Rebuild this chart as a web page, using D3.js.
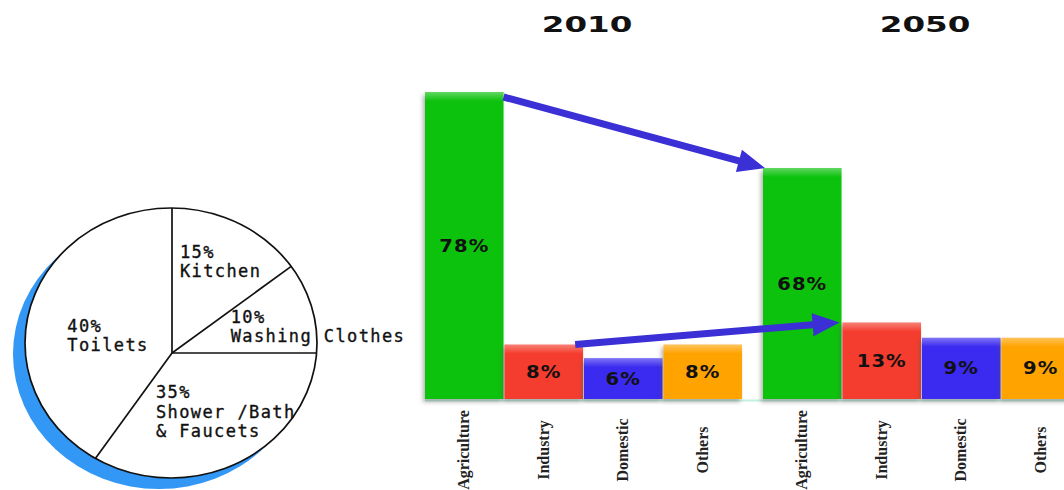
<!DOCTYPE html>
<html>
<head>
<meta charset="utf-8">
<script src="https://cdn.jsdelivr.net/npm/d3@7"></script>
<style>
    body { margin: 0; background: #fff; }
    svg { display: block; }
</style>
</head>
<body>
<div id="chart"></div>
<script>
// household use (pie)
const pieCategories = ["Kitchen", "Washing Clothes", "Shower /Bath", "Toilets"];
const pieNameLines = [["Kitchen"], ["Washing Clothes"], ["Shower /Bath", "& Faucets"], ["Toilets"]];
const pieValues = [15, 10, 35, 40];

// water use by sector (bars)
const years = ["2010", "2050"];
const sectors = ["Agriculture", "Industry", "Domestic", "Others"];
const share2010 = [78, 8, 6, 8];
const share2050 = [68, 13, 9, 9];

const width = 1064;
const height = 490;

const svg = d3.select("#chart").append("svg")
    .attr("width", width)
    .attr("height", height)
    .attr("viewBox", [0, 0, width, height]);

const defs = svg.append("defs");
const shadow = defs.append("filter")
    .attr("id", "barShadow")
    .attr("x", "-20%").attr("y", "-5%")
    .attr("width", "140%").attr("height", "115%");
shadow.append("feDropShadow")
    .attr("dx", -2).attr("dy", 3)
    .attr("stdDeviation", 2)
    .attr("flood-color", "#555")
    .attr("flood-opacity", 0.45);

const shine = defs.append("linearGradient")
    .attr("id", "shine")
    .attr("x1", 0).attr("y1", 0).attr("x2", 0).attr("y2", 1);
shine.append("stop").attr("offset", "0%").attr("stop-color", "#fff").attr("stop-opacity", 0.35);
shine.append("stop").attr("offset", "100%").attr("stop-color", "#fff").attr("stop-opacity", 0);

// ---------- pie ----------
// the original pie is a slightly squashed ellipse whose hub sits a bit below its centre
const hub = {x: 172, y: 353};
const oval = {x: 171, y: 343, rx: 146, ry: 135};

const pie = d3.pie().sort(null).value(d => d.value);
const arcs = pie(pieCategories.map((c, i) => ({name: c, lines: pieNameLines[i], value: pieValues[i]})));
const labelArc = d3.arc().innerRadius(88).outerRadius(88);

// where a ray from the hub at a pie angle meets the outline
function rimPoint(angle) {
    const dx = Math.sin(angle), dy = -Math.cos(angle);
    const hx = hub.x - oval.x, hy = hub.y - oval.y;
    const a = (dx / oval.rx) ** 2 + (dy / oval.ry) ** 2;
    const b = 2 * (hx * dx / oval.rx ** 2 + hy * dy / oval.ry ** 2);
    const c = (hx / oval.rx) ** 2 + (hy / oval.ry) ** 2 - 1;
    const t = (-b + Math.sqrt(b * b - 4 * a * c)) / (2 * a);
    return [hub.x + t * dx, hub.y + t * dy];
}

const pieG = svg.append("g");

// blue offset disc behind the pie
pieG.append("ellipse")
    .attr("cx", oval.x - 12)
    .attr("cy", oval.y + 11)
    .attr("rx", oval.rx)
    .attr("ry", oval.ry)
    .attr("fill", "#3397f5");

pieG.append("ellipse")
    .attr("cx", oval.x)
    .attr("cy", oval.y)
    .attr("rx", oval.rx)
    .attr("ry", oval.ry)
    .attr("fill", "#fff")
    .attr("stroke", "#111")
    .attr("stroke-width", 1.7);

pieG.selectAll("line.divider")
    .data(arcs)
    .join("line")
    .attr("class", "divider")
    .attr("x1", hub.x)
    .attr("y1", hub.y)
    .attr("x2", d => rimPoint(d.startAngle)[0])
    .attr("y2", d => rimPoint(d.startAngle)[1])
    .attr("stroke", "#111")
    .attr("stroke-width", 1.7);

// hand placed like the original, relative to each slice centroid
const labelNudge = {
    "Kitchen": [-32, -17],
    "Washing Clothes": [-25, -3],
    "Shower /Bath": [-56, -33],
    "Toilets": [-21, 6]
};

const pieLabelRows = arcs.flatMap(d => {
    const [x, y] = labelArc.centroid(d);
    const [dx, dy] = labelNudge[d.data.name];
    return [`${d.data.value}%`, ...d.data.lines].map((line, i) => ({
        x: hub.x + x + dx,
        y: hub.y + y + dy + i * 19.5,
        text: line
    }));
});

pieG.selectAll("text.pie-label")
    .data(pieLabelRows)
    .join("text")
    .attr("class", "pie-label")
    .attr("x", d => d.x)
    .attr("y", d => d.y)
    .attr("font-family", "'DejaVu Sans Mono', monospace")
    .attr("font-size", 17)
    .attr("letter-spacing", 1.4)
    .attr("fill", "#111")
    .attr("stroke", "#111")
    .attr("stroke-width", 0.35)
    .text(d => d.text);

// ---------- bars ----------
const x0 = d3.scaleBand()
    .domain(years)
    .range([425, 1080])
    .paddingInner(0.062);

const x1 = d3.scaleBand()
    .domain(sectors)
    .range([0, x0.bandwidth()])
    .paddingInner(0.012);

// the source graphic is not drawn to scale; a piecewise scale follows it
const y = d3.scaleLinear()
    .domain([0, 10, 68, 78])
    .range([399, 331, 168, 92]);

const color = d3.scaleOrdinal()
    .domain(sectors)
    .range(["#0bc20b", "#f43d2d", "#3b2cf0", "#ffa300"]);

const rows = years.map((yr, i) => ({
    year: yr,
    values: sectors.map((s, j) => ({
        year: yr,
        sector: s,
        value: (i === 0 ? share2010 : share2050)[j]
    }))
}));

// faint base line
svg.append("line")
    .attr("x1", x0("2010"))
    .attr("x2", width)
    .attr("y1", y(0) + 1.5)
    .attr("y2", y(0) + 1.5)
    .attr("stroke", "#c4efe4")
    .attr("stroke-width", 2);

const groups = svg.append("g")
    .selectAll("g")
    .data(rows)
    .join("g")
    .attr("transform", d => `translate(${x0(d.year)},0)`);

groups.selectAll("rect.bar")
    .data(d => d.values)
    .join("rect")
    .attr("class", "bar")
    .attr("x", d => x1(d.sector))
    .attr("y", d => y(d.value))
    .attr("width", x1.bandwidth())
    .attr("height", d => y(0) - y(d.value))
    .attr("fill", d => color(d.sector))
    .attr("filter", "url(#barShadow)");

groups.selectAll("rect.shine")
    .data(d => d.values)
    .join("rect")
    .attr("class", "shine")
    .attr("x", d => x1(d.sector))
    .attr("y", d => y(d.value))
    .attr("width", x1.bandwidth())
    .attr("height", 9)
    .attr("fill", "url(#shine)");

groups.selectAll("text.value")
    .data(d => d.values)
    .join("text")
    .attr("class", "value")
    .attr("transform", d => `translate(${x1(d.sector) + x1.bandwidth() / 2},${(y(d.value) + y(0)) / 2 + 6}) scale(1.15,1)`)
    .attr("text-anchor", "middle")
    .attr("font-family", "'DejaVu Sans', Verdana, sans-serif")
    .attr("font-weight", "bold")
    .attr("font-size", 17)
    .attr("letter-spacing", 1)
    .attr("fill", "#111")
    .text(d => `${d.value}%`);

// sector names under the bars
groups.selectAll("text.sector")
    .data(d => d.values)
    .join("text")
    .attr("class", "sector")
    .attr("transform", d => `translate(${x1(d.sector) + x1.bandwidth() / 2 + 5},450) rotate(-90)`)
    .attr("text-anchor", "middle")
    .attr("font-family", "'Liberation Serif', 'Times New Roman', serif")
    .attr("font-weight", "bold")
    .attr("font-size", 16)
    .attr("fill", "#222")
    .text(d => d.sector);

// year headings
groups.append("text")
    .attr("transform", `translate(${x1("Industry") + x1.bandwidth() + 4},32) scale(1.55,1)`)
    .attr("text-anchor", "middle")
    .attr("font-family", "'DejaVu Sans', Verdana, sans-serif")
    .attr("font-weight", "bold")
    .attr("font-size", 21)
    .attr("fill", "#111")
    .text(d => d.year);

// ---------- arrows ----------
function arrowPath(xa, ya, xb, yb, shaft, headLen, headW) {
    const ang = Math.atan2(yb - ya, xb - xa);
    const len = Math.hypot(xb - xa, yb - ya);
    const pts = [
        [0, -shaft / 2],
        [len - headLen, -shaft / 2],
        [len - headLen, -headW / 2],
        [len, 0],
        [len - headLen, headW / 2],
        [len - headLen, shaft / 2],
        [0, shaft / 2]
    ].map(([u, v]) => [
        xa + u * Math.cos(ang) - v * Math.sin(ang),
        ya + u * Math.sin(ang) + v * Math.cos(ang)
    ]);
    return d3.line()(pts) + "Z";
}

const bw = x1.bandwidth();
const arrows = [
    [x0("2010") + x1("Agriculture") + bw, y(share2010[0]) + 5, x0("2050") + x1("Agriculture") + 2, y(share2050[0])],
    [x0("2010") + x1("Industry") + bw * 0.9, y(share2010[1]), x0("2050") + x1("Agriculture") + bw - 2, y(share2050[1])]
];

svg.append("g")
    .selectAll("path")
    .data(arrows)
    .join("path")
    .attr("d", d => arrowPath(d[0], d[1], d[2], d[3], 7, 27, 23))
    .attr("fill", "#3a30d6");
</script>
</body>
</html>
